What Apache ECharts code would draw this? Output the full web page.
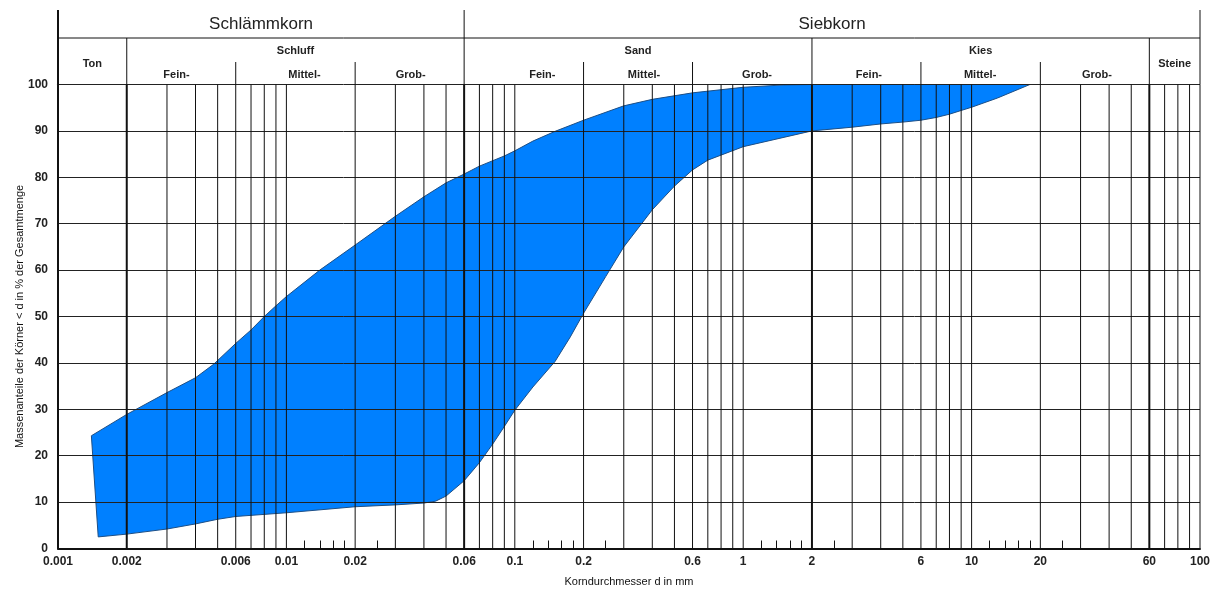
<!DOCTYPE html>
<html>
<head>
<meta charset="utf-8">
<title>Körnungsband</title>
<script src="https://cdn.jsdelivr.net/npm/echarts@6/dist/echarts.min.js"></script>
<style>
  html, body { margin: 0; padding: 0; background: #fff; }
  #chart { width: 1222px; height: 590px; }
</style>
</head>
<body>
<div id="chart"></div>
<script>
// Grain size band: upper and lower envelope (grain diameter d in mm, passing in %)
const upperSize    = [0.0014, 0.002, 0.003, 0.004, 0.0048, 0.006, 0.007, 0.008, 0.009, 0.01, 0.014, 0.02, 0.03, 0.04, 0.05, 0.06, 0.07, 0.09, 0.1, 0.12, 0.15, 0.2, 0.3, 0.4, 0.6, 1, 1.5, 2];
const upperPassing = [24.3, 28.9, 33.6, 36.8, 39.7, 44.2, 47.1, 50.0, 52.3, 54.3, 60.0, 65.4, 71.6, 75.8, 78.8, 80.7, 82.4, 84.6, 85.7, 87.8, 89.9, 92.3, 95.4, 96.8, 98.2, 99.4, 99.9, 100];

const lowerSize    = [0.0015, 0.002, 0.003, 0.004, 0.005, 0.006, 0.01, 0.02, 0.03, 0.04, 0.045, 0.05, 0.06, 0.07, 0.08, 0.09, 0.1, 0.12, 0.15, 0.175, 0.2, 0.25, 0.3, 0.4, 0.5, 0.6, 0.7, 1, 2, 3, 4, 5, 6, 7, 8, 9, 10, 13, 18];
const lowerPassing = [2.5, 3.1, 4.2, 5.3, 6.3, 6.9, 7.7, 9.0, 9.4, 9.8, 10.2, 11.3, 14.6, 18.5, 22.5, 26.3, 29.8, 34.8, 40.3, 45.6, 50.7, 58.6, 65.0, 73.0, 78.1, 81.6, 83.7, 86.6, 90.0, 90.8, 91.5, 91.9, 92.3, 92.9, 93.6, 94.4, 95.1, 97.1, 100];

// Axis labels and ticks
const xTickLabels = [0.001, 0.002, 0.006, 0.01, 0.02, 0.06, 0.1, 0.2, 0.6, 1, 2, 6, 10, 20, 60, 100];
const xMinorTicks = [0.012, 0.014, 0.016, 0.018, 0.025,
                     0.12, 0.14, 0.16, 0.18, 0.25,
                     1.2, 1.4, 1.6, 1.8, 2.5,
                     12, 14, 16, 18, 25];
const gridSizes = [0.002, 0.003, 0.004, 0.005, 0.006, 0.007, 0.008, 0.009,
                   0.01, 0.02, 0.03, 0.04, 0.05, 0.06, 0.07, 0.08, 0.09,
                   0.1, 0.2, 0.3, 0.4, 0.5, 0.6, 0.7, 0.8, 0.9,
                   1, 2, 3, 4, 5, 6, 7, 8, 9,
                   10, 20, 30, 40, 50, 60, 70, 80, 90, 100];
const boundarySizes = [0.002, 0.06, 2, 60];

// Soil classification header (DIN 4022 style)
const mainClasses = [
  { text: 'Schlämmkorn', from: 0.001, to: 0.06 },
  { text: 'Siebkorn', from: 0.06, to: 100 }
];
const soilClasses = [
  { text: 'Ton', from: 0.001, to: 0.002, full: true },
  { text: 'Schluff', from: 0.002, to: 0.06 },
  { text: 'Sand', from: 0.06, to: 2 },
  { text: 'Kies', from: 2, to: 60 },
  { text: 'Steine', from: 60, to: 100, full: true }
];
const subDividers = [0.006, 0.02, 0.2, 0.6, 6, 20];
const subClasses = [
  { text: 'Fein-', at: 0.0033 }, { text: 'Mittel-', at: 0.012 }, { text: 'Grob-', at: 0.035 },
  { text: 'Fein-', at: 0.132 }, { text: 'Mittel-', at: 0.368 }, { text: 'Grob-', at: 1.15 },
  { text: 'Fein-', at: 3.55 }, { text: 'Mittel-', at: 10.9 }, { text: 'Grob-', at: 35.4 }
];

const FONT = '"Liberation Sans", Arial, Helvetica, sans-serif';
const INK = '#111';

const chart = echarts.init(document.getElementById('chart'), null, { renderer: 'canvas' });

function renderBand(params, api) {
  const pts = [];
  for (let i = 0; i < upperSize.length; i++) pts.push(api.coord([upperSize[i], upperPassing[i]]));
  for (let i = lowerSize.length - 1; i >= 0; i--) pts.push(api.coord([lowerSize[i], lowerPassing[i]]));
  return {
    type: 'polygon',
    shape: { points: pts },
    style: { fill: '#0080ff', stroke: '#1d4f86', lineWidth: 1 }
  };
}

function renderGridLine(params, api) {
  const d = api.value(0);
  const p0 = api.coord([d, 0]);
  const p1 = api.coord([d, 100]);
  const thick = boundarySizes.indexOf(d) >= 0;
  return {
    type: 'line',
    shape: { x1: p0[0], y1: p0[1], x2: p1[0], y2: p1[1] },
    style: { stroke: INK, lineWidth: thick ? 2 : 1 }
  };
}

function renderHeader(params, api) {
  const top = api.coord([1, 100])[1];
  const X = d => api.coord([d, 100])[0];
  const yTop = top - 74.5, yMid = top - 46.5, ySub = top - 22.5;
  const children = [];
  const line = (x1, y1, x2, y2, w) => children.push({
    type: 'line', shape: { x1, y1, x2, y2 }, style: { stroke: INK, lineWidth: w || 1 }
  });
  const text = (t, x, y, size, weight) => children.push({
    type: 'text', x, y,
    style: { text: t, align: 'center', verticalAlign: 'middle', fill: '#222',
             font: `${weight} ${size}px ${FONT}` }
  });

  // outer frame and main split
  line(X(0.001), yTop, X(0.001), top, 2);
  line(X(100), yTop, X(100), top, 1);
  line(X(0.001), yMid, X(100), yMid, 1);
  mainClasses.forEach(c => {
    if (c.from > 0.001) line(X(c.from), yTop, X(c.from), top, 1);
    text(c.text, (X(c.from) + X(c.to)) / 2, top - 60, 17, 'normal');
  });
  soilClasses.forEach(c => {
    if (c.from > 0.001 && c.from !== 0.06) line(X(c.from), yMid, X(c.from), top, 1);
    const cx = (X(c.from) + X(c.to)) / 2;
    text(c.text, cx, c.full ? top - 21 : top - 34, 11, 'bold');
  });
  subDividers.forEach(d => line(X(d), ySub, X(d), top, 1));
  subClasses.forEach(c => text(c.text, X(c.at), top - 10, 11, 'bold'));
  return { type: 'group', children };
}

const option = {
  animation: false,
  backgroundColor: '#fff',
  grid: { left: 58, right: 22, top: 84.5, bottom: 41.5, outerBoundsMode: 'none', containLabel: false },
  xAxis: {
    type: 'log',
    logBase: 10,
    min: 0.001,
    max: 100,
    z: 4,
    name: 'Korndurchmesser d in mm',
    nameLocation: 'middle',
    nameGap: 28,
    nameMoveOverlap: false,
    nameTextStyle: { fontFamily: FONT, fontSize: 11, color: '#111' },
    axisLine: { show: true, onZero: false, lineStyle: { color: INK, width: 2 } },
    axisTick: { show: true, inside: true, length: 8, customValues: xMinorTicks, lineStyle: { color: INK, width: 1 } },
    axisLabel: {
      customValues: xTickLabels,
      showMinLabel: true, showMaxLabel: true, hideOverlap: false,
      margin: 7,
      fontFamily: FONT, fontSize: 12, fontWeight: 'bold', color: '#222',
      formatter: v => String(+(+v).toPrecision(6))
    },
    splitLine: { show: false },
    minorTick: { show: false },
    minorSplitLine: { show: false }
  },
  yAxis: {
    type: 'value',
    min: 0,
    max: 100,
    interval: 10,
    z: 3,
    name: 'Massenanteile der Körner < d in % der Gesamtmenge',
    nameLocation: 'middle',
    nameRotate: 90,
    nameGap: 33,
    nameMoveOverlap: false,
    nameTextStyle: { fontFamily: FONT, fontSize: 11, color: '#111' },
    axisLine: { show: true, lineStyle: { color: INK, width: 2 } },
    axisTick: { show: false },
    axisLabel: { margin: 10, fontFamily: FONT, fontSize: 12, fontWeight: 'bold', color: '#222' },
    splitLine: { show: true, lineStyle: { color: '#222', width: 1 } }
  },
  series: [
    {
      name: 'Körnungsband',
      type: 'custom',
      z: 1,
      silent: true,
      renderItem: renderBand,
      data: [[0.01, 50]]
    },
    {
      name: 'Raster',
      type: 'custom',
      z: 3,
      silent: true,
      renderItem: renderGridLine,
      data: gridSizes.map(d => [d, 0])
    },
    {
      name: 'Bodenarten',
      type: 'custom',
      z: 3,
      silent: true,
      clip: false,
      renderItem: renderHeader,
      data: [[1, 100]]
    }
  ]
};

chart.setOption(option);
</script>
</body>
</html>
